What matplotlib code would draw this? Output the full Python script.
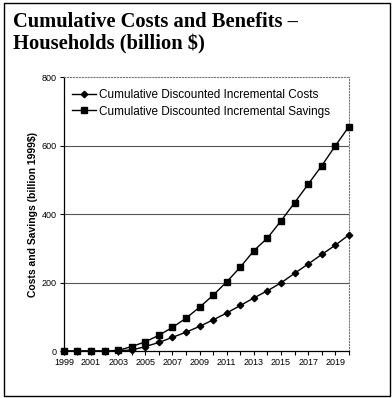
import matplotlib.pyplot as plt
from matplotlib.patches import Rectangle

years = list(range(1999, 2021))
tick_labels = [str(y) for y in range(1999, 2020, 2)]

costs = [0, 0, 0, 0, 1, 3, 13, 25, 40, 55, 72, 91, 111, 133, 155, 176, 199, 227, 254, 282, 309, 339]
savings = [0, 0, 0, 0, 2, 13, 27, 46, 69, 96, 128, 163, 202, 245, 293, 330, 380, 433, 487, 541, 599, 655]

fig = plt.figure(figsize=(3.92, 3.98), dpi=100)

# outer frame of the slide
fig.patches.append(Rectangle((0.010, 0.005), 0.985, 0.988, transform=fig.transFigure,
                             fill=False, edgecolor='black', linewidth=1.0))

fig.text(0.032, 0.945, 'Cumulative Costs and Benefits \u2013', family='Liberation Serif',
         fontweight='bold', fontsize=14.8, va='center', ha='left')
fig.text(0.032, 0.887, 'Households (billion $)', family='Liberation Serif',
         fontweight='bold', fontsize=14.8, va='center', ha='left')

ax = fig.add_axes([0.163, 0.118, 0.727, 0.6885])

x = list(range(len(years)))
ax.plot(x, costs, color='black', linewidth=1.0, marker='D', markersize=3.3,
        label='Cumulative Discounted Incremental Costs', clip_on=False, zorder=3)
ax.plot(x, savings, color='black', linewidth=1.0, marker='s', markersize=4.3,
        label='Cumulative Discounted Incremental Savings', clip_on=False, zorder=3)

ax.set_xlim(0, len(years) - 1)
ax.set_ylim(0, 800)
ax.set_yticks([0, 200, 400, 600, 800])
ax.set_xticks(range(0, len(years) - 1, 2))
ax.set_xticklabels(tick_labels)
ax.set_xticks(x, minor=True)
ax.tick_params(axis='both', labelsize=6.5, length=3, width=0.8, direction='out', pad=2)
ax.tick_params(axis='x', which='minor', length=3, width=0.8)
for lab in ax.get_xticklabels() + ax.get_yticklabels():
    lab.set_family('Liberation Sans')

for v in [200, 400, 600]:
    ax.axhline(v, color='#555555', linewidth=0.8, zorder=1)

ax.spines['top'].set_linestyle(':')
ax.spines['right'].set_linestyle(':')
ax.spines['top'].set_color('#777777')
ax.spines['right'].set_color('#777777')
ax.spines['left'].set_linewidth(0.9)
ax.spines['bottom'].set_linewidth(0.9)

ax.set_ylabel('Costs and Savings (billion 1999$)', family='Liberation Sans',
              fontweight='bold', fontsize=7.5, labelpad=3)

ax.legend(loc='upper left', frameon=False, prop={'family': 'Liberation Sans', 'size': 8.5},
          handlelength=2.0, handletextpad=0.3, labelspacing=0.35,
          bbox_to_anchor=(0.0, 0.985), borderaxespad=0.3)

fig.savefig('out.png', dpi=100)
